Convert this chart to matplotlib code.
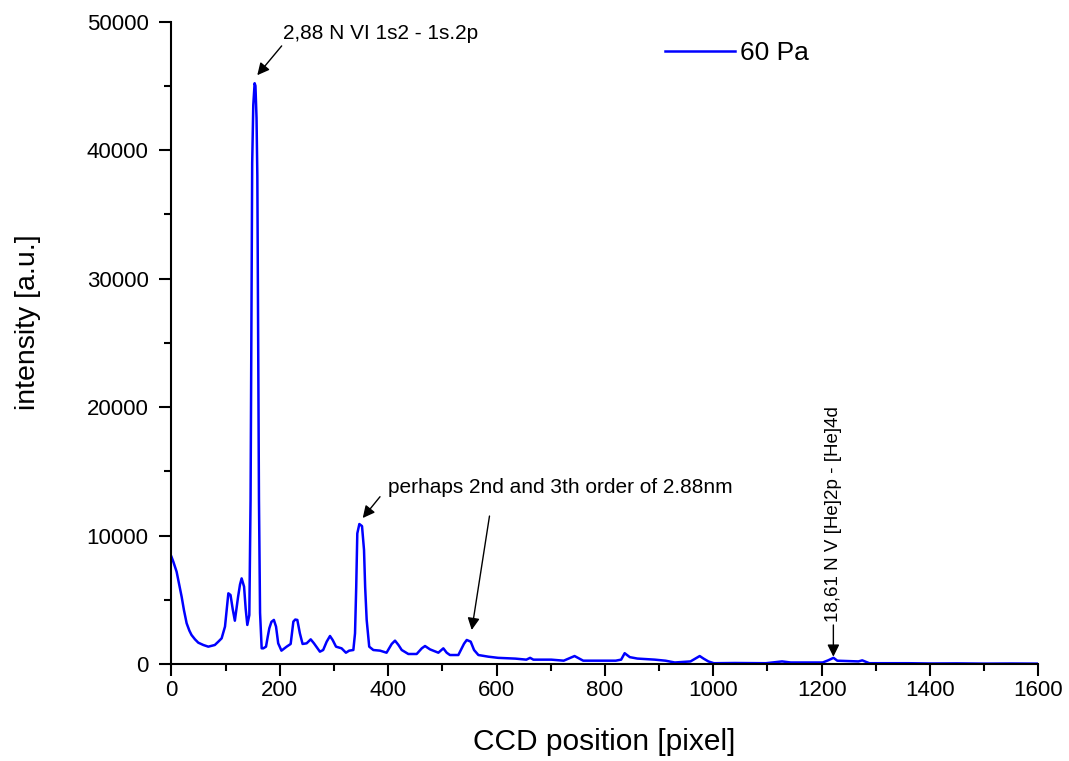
import matplotlib
matplotlib.use("Agg")
import matplotlib.pyplot as plt
from matplotlib.ticker import MultipleLocator

plt.rcParams['font.family'] = ['Liberation Sans', 'DejaVu Sans']

ccd_pos = [0, 3.4, 9.5, 13.8, 18.8, 23, 28, 33, 37, 43.4, 49.5, 58.8, 68, 80, 86.5, 92.6, 98.8, 102, 105,
           109, 113, 117, 120, 123, 126.5, 129.5, 134, 137, 140, 143.7,
           146, 148, 149, 151, 153.5, 155, 157, 158.5, 160, 161.5, 163.5, 166.5, 169.5, 174.5, 177.5, 180.6,
           184.5, 189, 193, 197, 203, 212.6, 220, 225, 228.5, 232.3, 237, 242, 249.5, 257, 263, 274, 280,
           286.5, 292.6, 297.5, 303.7, 314, 322, 328, 335.7, 338.8, 341, 343, 346.8, 351.7, 355.4, 357.5,
           360.3, 365, 372.6, 385, 397, 402, 406.5, 412.6, 419, 425, 437.2, 452.6, 462, 468, 477.2, 492.6,
           501.8, 508, 514, 529.5, 535.7, 540, 545, 552.3, 558.5, 566.5, 585, 603, 635, 655, 662, 668, 701,
           724, 744, 760, 820, 830, 836.5, 846, 860, 892, 912, 929, 958, 975, 982, 991, 1001, 1040, 1070,
           1097, 1127, 1143, 1202, 1212, 1222, 1229, 1268, 1275, 1288, 1360, 1400, 1450, 1500, 1550, 1598]
intensity = [8365, 7980, 7200, 6300, 5250, 4220, 3190, 2620, 2280, 1940, 1680, 1500, 1370, 1500, 1760, 2020,
             2930, 4300, 5520, 5390, 4300, 3390, 4300, 5260, 6200, 6680, 6040, 4300, 3060, 3830,
             12780, 30000, 39000, 43500, 45200, 45000, 42500, 38000, 25000, 12780, 4000, 1240,
             1240, 1370, 2100, 2800, 3300, 3450, 2930, 1630, 1060, 1370, 1580, 3320, 3480, 3450, 2410, 1580,
             1630, 1940, 1630, 980, 1110, 1760, 2200, 1890, 1370, 1240, 900, 1060, 1110, 2410, 6000, 10180,
             10910, 10750, 8890, 6000, 3450, 1370, 1110, 1060, 900, 1250, 1580, 1840, 1500, 1110, 800, 800,
             1240, 1420, 1160, 900, 1240, 900, 720, 720, 1240, 1600, 1890, 1760, 1110, 720, 590, 500, 440,
             360, 500, 360, 360, 280, 640, 280, 280, 360, 860, 555, 444, 361, 278, 139, 222, 640, 444, 222,
             83, 100, 90, 83, 222, 139, 139, 305, 500, 278, 222, 305, 83, 83, 60, 70, 50, 60, 50]

series_label = "60 Pa"
x_label = "CCD position [pixel]"
y_label = "intensity [a.u.]"

fig = plt.figure(figsize=(10.69, 7.61), dpi=100)
ax = fig.add_axes([0.1604, 0.1271, 0.9713 - 0.1604, 0.9717 - 0.1271])

ax.plot(ccd_pos, intensity, color='#0000FF', lw=1.8, label=series_label, solid_joinstyle='round')

ax.set_xlim(0, 1600)
ax.set_ylim(0, 50000)
ax.xaxis.set_major_locator(MultipleLocator(200))
ax.xaxis.set_minor_locator(MultipleLocator(100))
ax.yaxis.set_major_locator(MultipleLocator(10000))
ax.yaxis.set_minor_locator(MultipleLocator(5000))

for s in ['top', 'right']:
    ax.spines[s].set_visible(False)
for s in ['left', 'bottom']:
    ax.spines[s].set_linewidth(1.5)

ax.tick_params(which='major', direction='out', length=8.5, width=1.5, labelsize=16, pad=3)
ax.tick_params(which='minor', direction='out', length=5, width=1.5)
ax.tick_params(axis='y', which='major', pad=8)

ax.set_xlabel(x_label, fontsize=21.5, va='center')
ax.xaxis.set_label_coords(0.499, -0.121)
ax.set_ylabel(y_label, fontsize=20.5, va='center')
ax.yaxis.set_label_coords(-0.166, 0.5325)

leg = ax.legend(loc='center left', bbox_to_anchor=(0.569, 0.951), frameon=False,
                fontsize=19, handlelength=2.65, handletextpad=0.2, borderpad=0, borderaxespad=0)

arrow_kw = dict(arrowstyle='-|>', color='black', lw=1.0, mutation_scale=18, shrinkA=0, shrinkB=0)

# annotation 1
ax.text(205.6, 48625, "2,88 N VI 1s2 - 1s.2p", fontsize=15, ha='left', va='baseline')
ax.annotate('', xy=(158.4, 45825), xytext=(203.4, 48103), arrowprops=arrow_kw)

# annotation 2
ax.text(399.6, 13300, "perhaps 2nd and 3th order of 2.88nm", fontsize=15, ha='left', va='baseline')
ax.annotate('', xy=(353, 11376), xytext=(384.9, 13033), arrowprops=arrow_kw)
ax.annotate('', xy=(554.2, 2667), xytext=(587, 11532), arrowprops=arrow_kw)

# annotation 3
ax.text(1221.7, 3313, "18,61 N V [He]2p - [He]4d", fontsize=13.5, rotation=90, ha='center', va='bottom')
ax.annotate('', xy=(1221.7, 591), xytext=(1221.7, 3056), arrowprops=arrow_kw)

fig.savefig("out.png", dpi=100)
